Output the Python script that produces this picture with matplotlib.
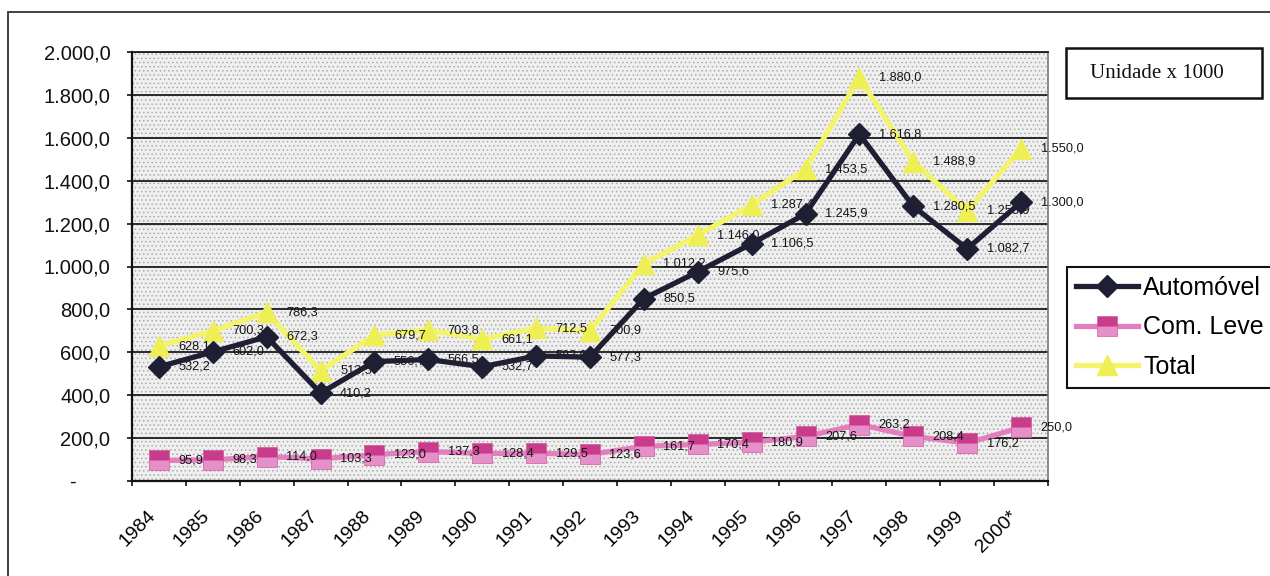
import numpy as np
import matplotlib
matplotlib.use("Agg")
import matplotlib.pyplot as plt
from matplotlib.patches import Rectangle

plt.rcParams['font.family'] = ['Liberation Sans', 'DejaVu Sans']
plt.rcParams['hatch.linewidth'] = 0.6

# Produção por ano (unidade x 1000)
anos = ['1984', '1985', '1986', '1987', '1988', '1989', '1990', '1991', '1992',
        '1993', '1994', '1995', '1996', '1997', '1998', '1999', '2000*']
automovel = [532.2, 602.0, 672.3, 410.2, 556.7, 566.5, 532.7, 583.0, 577.3,
             850.5, 975.6, 1106.5, 1245.9, 1616.8, 1280.5, 1082.7, 1300.0]
com_leve = [95.9, 98.3, 114.0, 103.3, 123.0, 137.3, 128.4, 129.5, 123.6,
            161.7, 170.4, 180.9, 207.6, 263.2, 208.4, 176.2, 250.0]
total = [628.1, 700.3, 786.3, 513.5, 679.7, 703.8, 661.1, 712.5, 700.9,
         1012.2, 1146.0, 1287.4, 1453.5, 1880.0, 1488.9, 1258.9, 1550.0]


def fmt_br(v):
    s = f"{v:,.1f}"
    return s.replace(',', 'X').replace('.', ',').replace('X', '.')


W, H = 1270, 576
fig = plt.figure(figsize=(W / 100, H / 100), dpi=100)
fig.patch.set_facecolor('white')

ax = fig.add_axes([132 / W, 1 - 481 / H, (1048 - 132) / W, (481 - 52) / H])
ax.set_facecolor('#efefef')
ax.add_patch(Rectangle((0, 0), 1, 1, transform=ax.transAxes, facecolor='none',
                       edgecolor='#ababab', hatch='....', linewidth=0, zorder=0.5))

x = np.arange(len(anos))

cor_auto = '#1e1f33'
cor_leve = '#e37fbf'
cor_total = '#f4f46a'

l_auto, = ax.plot(x, automovel, color=cor_auto, lw=3.8, marker='D', ms=11.5,
                  mfc=cor_auto, mec=cor_auto, zorder=5, label='Automóvel')
l_leve, = ax.plot(x, com_leve, color=cor_leve, lw=3.8, marker='s', ms=15,
                  mfc='#c93b8b', mfcalt='#e690c9', fillstyle='top', mec='#d25a9f',
                  mew=0.5, zorder=3, label='Com. Leve')
l_total, = ax.plot(x, total, color=cor_total, lw=3.8, marker='^', ms=14,
                   mfc='#eeee55', mec='#eeee55', zorder=3, label='Total')

# rótulos de valor à direita de cada ponto
for serie in (automovel, com_leve, total):
    for xi, v in zip(x, serie):
        ax.annotate(fmt_br(v), (xi, v), xytext=(14, 0), textcoords='offset points',
                    ha='left', va='center', fontsize=9.2, color='#151515',
                    zorder=4, annotation_clip=False)

ax.set_xlim(-0.5, len(anos) - 0.5)
ax.set_ylim(0, 2000)

yt = np.arange(0, 2001, 200)
ax.set_yticks(yt)
ax.set_yticklabels(['-      ' if v == 0 else fmt_br(v) for v in yt], fontsize=14.5)
ax.yaxis.grid(True, color='#1a1a1a', lw=1.3)
ax.set_axisbelow(True)
ax.tick_params(axis='y', length=3.6, width=1.2, pad=12, colors='#111111')

ax.set_xticks(x)
ax.set_xticklabels(anos, rotation=45, ha='right', va='top', fontsize=14)
ax.set_xticks(np.arange(-0.5, len(anos)), minor=True)
ax.tick_params(axis='x', which='major', length=0, pad=19)
ax.tick_params(axis='x', which='minor', length=3.6, width=1.2, color='#111111')

for lado in ('left', 'bottom'):
    ax.spines[lado].set_color('#111111')
    ax.spines[lado].set_linewidth(1.6)
ax.spines['right'].set_color('#777777')
ax.spines['right'].set_linewidth(1.2)
ax.spines['top'].set_color('#1a1a1a')
ax.spines['top'].set_linewidth(1.3)

leg = fig.legend(handles=[l_auto, l_leve, l_total], loc='upper left',
                 bbox_to_anchor=(1067 / W, 1 - 267 / H), bbox_transform=fig.transFigure,
                 fontsize=18, frameon=True, fancybox=False, borderaxespad=0,
                 borderpad=0.35, handlelength=2.5, handletextpad=0.2, labelspacing=0.62)
leg.get_frame().set_edgecolor('#111111')
leg.get_frame().set_linewidth(1.5)
leg.get_frame().set_alpha(1)

# moldura externa do gráfico
fig.add_artist(Rectangle((8 / W, -0.1), 1.2, 1.1 - 12 / H, transform=fig.transFigure,
                         fill=False, edgecolor='#333333', lw=1.3))

# caixa de unidade
fig.add_artist(Rectangle((1066 / W, 1 - 98 / H), (1262 - 1066) / W, 50 / H,
                         transform=fig.transFigure, fill=False, edgecolor='#111111', lw=1.8))
fig.text(1157 / W, 1 - 73 / H, 'Unidade x 1000', ha='center', va='center',
         fontsize=15, family=['Liberation Serif', 'DejaVu Serif'], color='#111111')

fig.savefig('out.png', dpi=100)
